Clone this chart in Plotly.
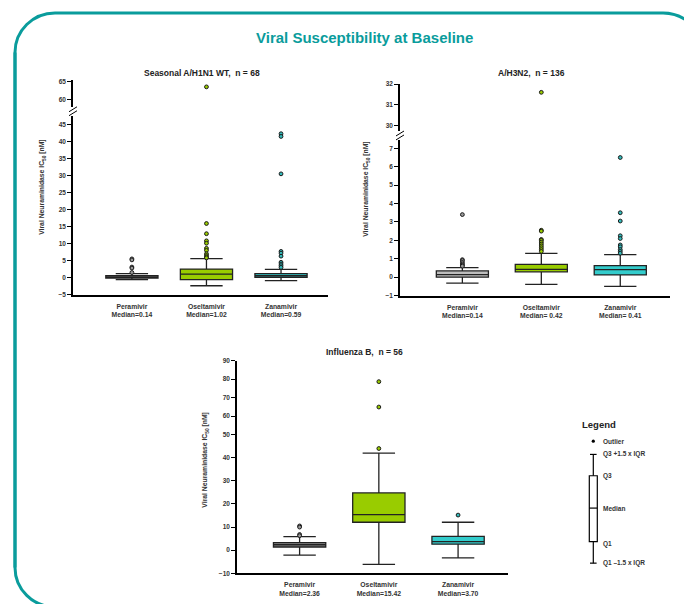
import plotly.graph_objects as go

W, H = 684, 604

# ---------------- data ----------------
drugs = ["Peramivir", "Oseltamivir", "Zanamivir"]

# Seasonal A/H1N1 WT
h1_labels = ["Median=0.14", "Median=1.02", "Median=0.59"]
h1_q1 = [-0.15, -0.58, 0.10]
h1_median = [0.14, 1.02, 0.59]
h1_q3 = [0.60, 2.50, 1.15]
h1_lower = [-0.58, -2.40, -0.87]
h1_upper = [1.15, 5.60, 2.40]
h1_out = [
    [5.5, 5.2, 3.1, 2.8, 1.5],
    [63.5, 15.9, 12.9, 10.8, 10.1, 8.6, 8.0, 7.0, 6.5, 6.1, 5.8],
    [42.3, 41.5, 30.5, 7.7, 7.2, 6.3, 4.5, 4.0, 3.5, 3.0],
]

# A/H3N2
h3_labels = ["Median=0.14", "Median= 0.42", "Median= 0.41"]
h3_q1 = [0.00, 0.29, 0.12]
h3_median = [0.14, 0.42, 0.41]
h3_q3 = [0.34, 0.70, 0.63]
h3_lower = [-0.32, -0.39, -0.50]
h3_upper = [0.52, 1.29, 1.23]
h3_out = [
    [3.4, 0.95, 0.9, 0.8, 0.72, 0.65, 0.6],
    [31.6, 2.55, 2.5, 2.05, 2.0, 1.9, 1.8, 1.7, 1.6, 1.5, 1.4],
    [6.5, 3.5, 3.05, 2.25, 2.1, 1.75, 1.65, 1.5, 1.4, 1.3],
]

# Influenza B
b_labels = ["Median=2.36", "Median=15.42", "Median=3.70"]
b_q1 = [1.4, 12.1, 2.6]
b_median = [2.36, 15.42, 3.70]
b_q3 = [3.3, 24.8, 6.0]
b_lower = [-2.1, -6.1, -3.3]
b_upper = [5.9, 42.0, 12.1]
b_out = [
    [10.5, 10.0, 6.8, 6.3],
    [78.6, 64.9, 44.0],
    [15.2],
]

titles = ["Seasonal A/H1N1 WT,  n = 68", "A/H3N2,  n = 136", "Influenza B,  n = 56"]
main_title = "Viral Susceptibility at Baseline"
ytitle = "Viral Neuraminidase IC<sub>50</sub> [nM]"
legend_labels = ["Outlier", "Q3 +1.5 x IQR", "Q3", "Median", "Q1", "Q1 \u20131.5 x IQR"]

# ---------------- styling ----------------
TEAL = "#0a9c9c"
fills_top_left = ["#8a8a8a", "#99cc00", "#33cccc"]
fills_top_right = ["#bdbdbd", "#99cc00", "#33cccc"]
fills_bottom = ["#8c8c8c", "#99cc00", "#33cccc"]
out_fills = ["#9a9a9a", "#99cc00", "#33bbbb"]

SANS = "Liberation Sans, Arial, sans-serif"


def px(x):
    return x / W


def py(y):
    return 1 - y / H


def bfont(size, color="#333333"):
    return dict(family=SANS, size=size, color=color, weight="bold")


fig = go.Figure()

panels = [
    dict(x="x", yl="y", yu="y2", xd=(73, 328), yld=(113, 294), yud=(77, 104),
         lr=[-5, 47.6], ur=[57.9, 65.4], lt=list(range(-5, 46, 5)), ut=[60, 65],
         q1=h1_q1, med=h1_median, q3=h1_q3, lo=h1_lower, up=h1_upper, out=h1_out,
         fills=fills_top_left, labels=h1_labels, bw=0.70, brk=(104, 113)),
    dict(x="x2", yl="y3", yu="y4", xd=(400, 670), yld=(138, 295), yud=(81, 128),
         lr=[-1, 7.43], ur=[29.75, 32.0], lt=list(range(-1, 8)), ut=[30, 31, 32],
         q1=h3_q1, med=h3_median, q3=h3_q3, lo=h3_lower, up=h3_upper, out=h3_out,
         fills=fills_top_right, labels=h3_labels, bw=0.66, brk=(128, 138)),
    dict(x="x3", yl="y5", yu="y6", xd=(237, 508), yld=(435.7, 576), yud=(360.7, 435.7),
         lr=[-10, 50], ur=[50, 90], lt=list(range(-10, 51, 10)), ut=[60, 70, 80, 90],
         q1=b_q1, med=b_median, q3=b_q3, lo=b_lower, up=b_upper, out=b_out,
         fills=fills_bottom, labels=b_labels, bw=0.66, brk=None),
]

layout_axes = {}
shapes = []
annotations = []

for p in panels:
    xname = "xaxis" + p["x"][1:]
    ylname = "yaxis" + p["yl"][1:]
    yuname = "yaxis" + p["yu"][1:]
    for i, d in enumerate(drugs):
        fig.add_trace(go.Box(
            x=[i], q1=[p["q1"][i]], median=[p["med"][i]], q3=[p["q3"][i]],
            lowerfence=[p["lo"][i]], upperfence=[p["up"][i]],
            width=p["bw"], whiskerwidth=0.62, boxpoints=False,
            fillcolor=p["fills"][i], line=dict(color="#222222", width=1.3),
            xaxis=p["x"], yaxis=p["yl"], showlegend=False, hoverinfo="skip",
        ))
        vals = p["out"][i]
        low_vals = [v for v in vals if v <= p["lr"][1]]
        up_vals = [v for v in vals if v > p["lr"][1]]
        mk = dict(symbol="circle", size=3.8, color=out_fills[i],
                  line=dict(color="#1a1a1a", width=1))
        if low_vals:
            fig.add_trace(go.Scatter(x=[i] * len(low_vals), y=low_vals, mode="markers",
                                     marker=mk, xaxis=p["x"], yaxis=p["yl"],
                                     showlegend=False, hoverinfo="skip"))
        if up_vals:
            fig.add_trace(go.Scatter(x=[i] * len(up_vals), y=up_vals, mode="markers",
                                     marker=mk, xaxis=p["x"], yaxis=p["yu"],
                                     showlegend=False, hoverinfo="skip"))

    ticktext = ["%s<br>%s" % (d, m) for d, m in zip(drugs, p["labels"])]
    layout_axes[xname] = dict(
        domain=[px(p["xd"][0]), px(p["xd"][1])], range=[-0.79, 2.63],
        anchor=p["yl"], showgrid=False, zeroline=False, showline=True,
        linecolor="black", linewidth=1.6, ticks="", tickvals=[0, 1, 2],
        ticktext=ticktext, ticklabelstandoff=4,
        tickfont=bfont(6.8),
    )
    common_y = dict(anchor=p["x"], showgrid=False, zeroline=False, showline=True,
                    linecolor="black", linewidth=1.6, ticks="outside", ticklen=4,
                    tickwidth=1.2, tickcolor="black", tickfont=bfont(6.5))
    layout_axes[ylname] = dict(domain=[py(p["yld"][1]), py(p["yld"][0])], range=p["lr"],
                               tickvals=p["lt"], **common_y)
    layout_axes[yuname] = dict(domain=[py(p["yud"][1]), py(p["yud"][0])], range=p["ur"],
                               tickvals=p["ut"], **common_y)

    if p["brk"]:
        xa = p["xd"][0]
        mid = (p["brk"][0] + p["brk"][1]) / 2
        for off in (-2, 2):
            shapes.append(dict(type="line", xref="paper", yref="paper",
                               x0=px(xa - 4), y0=py(mid + off + 2.5),
                               x1=px(xa + 4), y1=py(mid + off - 2.5),
                               line=dict(color="black", width=1)))


def ann(text, x, y, font, xanchor="center", angle=0):
    annotations.append(dict(text=text, x=px(x), y=py(y), xref="paper", yref="paper",
                            xanchor=xanchor, yanchor="middle", showarrow=False,
                            textangle=angle, font=font))


for t, (xx, yy) in zip(titles, [(202, 70), (531, 70), (364, 352)]):
    ann(t, xx, yy, bfont(8.5, "#222222"))

for (xx, yy) in [(42, 186), (366, 188), (205, 462)]:
    ann(ytitle, xx, yy, bfont(6.8), angle=-90)

ann(main_title, 364, 34, bfont(15, TEAL))

# ---------------- legend graphic ----------------
lx = 593.3
ann("Legend", 580, 425, bfont(9.5, "#222222"), xanchor="left")
shapes.append(dict(type="circle", xref="paper", yref="paper", x0=px(lx - 1.6), x1=px(lx + 1.6),
                   y0=py(442.3 + 1.6), y1=py(442.3 - 1.6), fillcolor="black", line=dict(width=0)))
line_k = dict(color="black", width=1.2)
shapes += [
    dict(type="line", xref="paper", yref="paper", x0=px(590), x1=px(596.6), y0=py(455.7), y1=py(455.7), line=line_k),
    dict(type="line", xref="paper", yref="paper", x0=px(lx), x1=px(lx), y0=py(455.7), y1=py(477.3), line=line_k),
    dict(type="rect", xref="paper", yref="paper", x0=px(589.3), x1=px(597.3), y0=py(544), y1=py(477.3), line=line_k),
    dict(type="line", xref="paper", yref="paper", x0=px(589.3), x1=px(597.3), y0=py(510), y1=py(510), line=line_k),
    dict(type="line", xref="paper", yref="paper", x0=px(lx), x1=px(lx), y0=py(544), y1=py(565.7), line=line_k),
    dict(type="line", xref="paper", yref="paper", x0=px(590), x1=px(596.6), y0=py(565.7), y1=py(565.7), line=line_k),
]
for txt, yy in zip(legend_labels, [442.3, 455.5, 477.5, 510, 546.5, 566]):
    ann(txt, 600.5, yy, bfont(6.5), xanchor="left")


# ---------------- rounded teal frame ----------------
def rounded_frame(x0, y0, x1, y1, r):
    k = 0.5523 * r
    pts = [
        ("M", [(x0, y1 - r)]),
        ("L", [(x0, y0 + r)]),
        ("C", [(x0, y0 + r - k), (x0 + r - k, y0), (x0 + r, y0)]),
        ("L", [(x1 - r, y0)]),
        ("C", [(x1 - r + k, y0), (x1, y0 + r - k), (x1, y0 + r)]),
        ("L", [(x1, y1)]),
    ]
    s = ""
    for cmd, cs in pts:
        s += cmd + " " + " ".join("%.5f,%.5f" % (px(a), py(b)) for a, b in cs) + " "
    s2 = "M %.5f,%.5f L %.5f,%.5f C %.5f,%.5f %.5f,%.5f %.5f,%.5f" % (
        px(x0), py(y0 + r), px(x0), py(y1 - r),
        px(x0), py(y1 - r + k), px(x0 + r - k), py(y1), px(x0 + r), py(y1))
    return s, s2


p1, p2 = rounded_frame(15, 9, 703, 610, 40)
shapes.append(dict(type="path", xref="paper", yref="paper", path=p1, line=dict(color=TEAL, width=3)))
shapes.append(dict(type="path", xref="paper", yref="paper", path=p2, line=dict(color=TEAL, width=3)))

fig.update_layout(
    width=W, height=H, margin=dict(l=0, r=0, t=0, b=0),
    paper_bgcolor="white", plot_bgcolor="rgba(0,0,0,0)",
    showlegend=False, shapes=shapes, annotations=annotations,
    **layout_axes,
)

fig.write_html("out.html", config={"displayModeBar": False},
               post_script="document.body.style.margin='0';document.body.style.overflow='hidden';")
